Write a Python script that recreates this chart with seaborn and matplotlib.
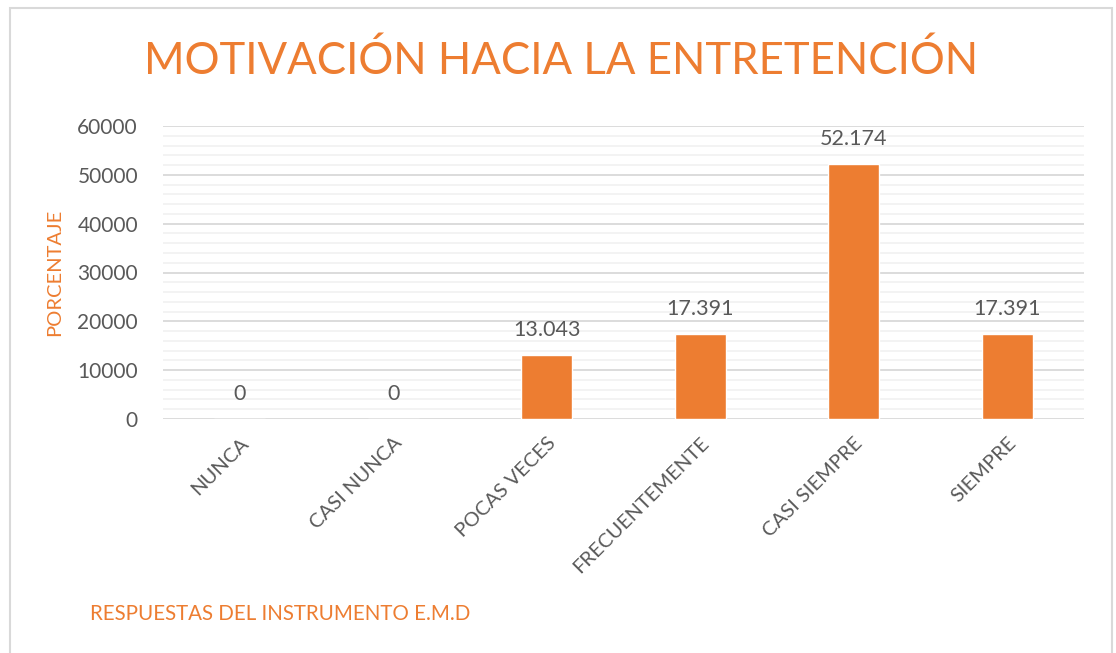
import matplotlib
matplotlib.use("Agg")
import matplotlib.pyplot as plt
import seaborn as sns
import pandas as pd
from matplotlib.patches import Rectangle
from matplotlib.ticker import MultipleLocator

categories = ["NUNCA", "CASI NUNCA", "POCAS VECES", "FRECUENTEMENTE", "CASI SIEMPRE", "SIEMPRE"]
values = [0, 0, 13043, 17391, 52174, 17391]
yticks = [0, 10000, 20000, 30000, 40000, 50000, 60000]

ORANGE = "#ED7D31"
GRAY = "#595959"

sns.set_theme(style="white")
plt.rcParams['font.family'] = ['Lato', 'DejaVu Sans']

df = pd.DataFrame({"cat": categories, "val": values})

fig = plt.figure(figsize=(11.16, 6.53), dpi=100)
ax = fig.add_axes([163/1116, 1 - 419/653, (1084-163)/1116, (419-126)/653])

sns.barplot(data=df, x="cat", y="val", color=ORANGE, width=0.33, ax=ax, saturation=1, zorder=3)

ax.set_ylim(0, 60000)
ax.set_yticks(yticks)
ax.set_yticklabels([str(t) for t in yticks])
ax.yaxis.set_minor_locator(MultipleLocator(2000))
ax.grid(which="major", axis="y", color="#D9D9D9", linewidth=1.3, zorder=0)
ax.grid(which="minor", axis="y", color="#F2F2F2", linewidth=1.3, zorder=0)
ax.grid(axis="x", visible=False)
for s in ax.spines.values():
    s.set_visible(False)
ax.tick_params(axis="y", length=0, labelsize=15, colors=GRAY, pad=18)
ax.tick_params(axis="x", length=0, colors=GRAY)
ax.tick_params(axis="y", which="minor", length=0)
ax.set_xlabel("")
ax.set_ylabel("PORCENTAJE", color=ORANGE, fontsize=14.5, labelpad=10)

ax.set_xticks(range(len(categories)))
ax.set_xticklabels(categories, rotation=45, ha="right", va="top",
                   rotation_mode="anchor", fontsize=14.5, color=GRAY)
for lbl in ax.get_xticklabels():
    lbl.set_y(-0.035)

labels = [f"{v:,}".replace(",", ".") for v in values]
ax.bar_label(ax.containers[0], labels=labels, padding=11, fontsize=15.5, color=GRAY)

fig.text(561/1116, 1 - 61/653, "MOTIVACIÓN HACIA LA ENTRETENCIÓN", ha="center", va="center",
         fontsize=31.5, color=ORANGE)
fig.text(90/1116, 1 - 614/653, "RESPUESTAS DEL INSTRUMENTO E.M.D", ha="left", va="center",
         fontsize=14.8, color=ORANGE)

fig.patches.append(Rectangle((10/1116, -0.01), (1112-10)/1116, 1 - 8/653 + 0.01,
                             transform=fig.transFigure, fill=False,
                             edgecolor="#D9D9D9", linewidth=1.5))

fig.savefig("out.png", dpi=100)
